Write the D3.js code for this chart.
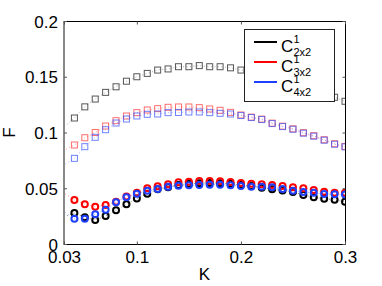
<!DOCTYPE html>
<html><head><meta charset="utf-8">
<script src="https://cdn.jsdelivr.net/npm/d3@7"></script>
<style>html,body{margin:0;padding:0;background:#fff;}svg{display:block;}</style>
</head><body>
<script>
const K = [0.02,0.04,0.05,0.06,0.07,0.08,0.09,0.10,0.11,0.12,0.13,0.14,0.15,0.16,0.17,0.18,0.19,0.20,0.21,0.22,0.23,0.24,0.25,0.26,0.27,0.28,0.29,0.30];
const sq2x2 = [0.097,0.113,0.123,0.130,0.136,0.141,0.146,0.150,0.153,0.156,0.157,0.159,0.159,0.160,0.159,0.159,0.158,0.156,0.154,0.152,0.150,0.147,0.144,0.141,0.138,0.135,0.1316,0.128];
const sq3x2 = [0.079,0.0888,0.0953,0.100,0.1058,0.1106,0.1148,0.1178,0.1202,0.1214,0.1226,0.1229,0.1229,0.1223,0.1211,0.1199,0.1181,0.1157,0.1138,0.1120,0.1084,0.1057,0.1033,0.0998,0.0971,0.0935,0.0899,0.0875];
const sq4x2 = [0.065,0.0768,0.0873,0.0957,0.1025,0.1085,0.1121,0.1148,0.1163,0.1166,0.1178,0.118,0.1184,0.1184,0.1178,0.1172,0.1166,0.1152,0.1134,0.1116,0.1080,0.1053,0.1029,0.0994,0.0967,0.0931,0.0895,0.0871];
const ci2x2 = [0.0212,0.0278,0.024,0.0215,0.0251,0.0302,0.0356,0.0407,0.0451,0.049,0.051,0.053,0.054,0.0545,0.0548,0.0545,0.054,0.053,0.052,0.0505,0.049,0.048,0.0467,0.044,0.042,0.0405,0.0396,0.038];
const ci3x2 = [0.052,0.0395,0.0356,0.0335,0.035,0.038,0.0425,0.046,0.050,0.0517,0.0535,0.0553,0.0559,0.0565,0.0565,0.0562,0.0556,0.0547,0.0540,0.0536,0.0530,0.052,0.0508,0.050,0.0484,0.0469,0.046,0.046];
const ci4x2 = [0.035,0.0227,0.0227,0.0266,0.0308,0.0374,0.0419,0.0451,0.0478,0.0493,0.0514,0.0523,0.0526,0.0529,0.0532,0.0532,0.0526,0.052,0.0514,0.0514,0.0508,0.0493,0.0478,0.0466,0.046,0.0448,0.0446,0.0443];
const xTicks = [0.03,0.1,0.2,0.3];
const xTickLabels = ["0.03","0.1","0.2","0.3"];
const yTicks = [0,0.05,0.1,0.15,0.2];
const yTickLabels = ["0","0.05","0.1","0.15","0.2"];
const legendLabels = [{sup:"1",sub:"2x2"},{sup:"1",sub:"3x2"},{sup:"1",sub:"4x2"}];
const seriesColors = ["#000000","#ff0000","#1f3fff"];

const W=382,H=286;
const L=64,R=345,T=21,B=244;
const FONT='"Liberation Sans", Arial, Helvetica, sans-serif';
const svg=d3.select("body").append("svg").attr("width",W).attr("height",H);
const x=d3.scaleLinear().domain([0.03,0.3]).range([L,R]);
const y=d3.scaleLinear().domain([0,0.2]).range([B,T]);

svg.append("defs").append("clipPath").attr("id","clip").append("rect")
  .attr("x",L).attr("y",T).attr("width",R-L).attr("height",B-T);
const plot=svg.append("g").attr("clip-path","url(#clip)");

const line=d3.line().x((d,i)=>x(K[i])).y(d=>y(d));
function drawSquares(vals,color,op){
  const g=plot.append("g");
  g.append("path").attr("d",line(vals)).attr("fill","none").attr("stroke",color)
    .attr("stroke-opacity",0.45).attr("stroke-width",1).attr("stroke-dasharray","1,2.5");
  g.selectAll("rect").data(vals).join("rect")
    .attr("x",(d,i)=>x(K[i])-3).attr("y",d=>y(d)-3).attr("width",6).attr("height",6)
    .attr("fill","none").attr("stroke",color).attr("stroke-opacity",op).attr("stroke-width",1);
}
function drawCircles(vals,color){
  const g=plot.append("g");
  g.append("path").attr("d",line(vals)).attr("fill","none").attr("stroke",color)
    .attr("stroke-opacity",0.45).attr("stroke-width",1).attr("stroke-dasharray","1,2.5");
  g.selectAll("circle").data(vals).join("circle")
    .attr("cx",(d,i)=>x(K[i])).attr("cy",d=>y(d)).attr("r",3)
    .attr("fill","none").attr("stroke",color).attr("stroke-width",2);
}
drawSquares(sq2x2,"#444",0.9);
drawSquares(sq3x2,"#ff3030",0.7);
drawSquares(sq4x2,"#3050ff",0.7);
drawCircles(ci2x2,seriesColors[0]);
drawCircles(ci3x2,seriesColors[1]);
drawCircles(ci4x2,seriesColors[2]);

// axes box
const ax=svg.append("g");
ax.append("line").attr("x1",L).attr("x2",R).attr("y1",T+0.5).attr("y2",T+0.5).attr("stroke","#000");
ax.append("line").attr("x1",L).attr("x2",R).attr("y1",B+0.5).attr("y2",B+0.5).attr("stroke","#000");
ax.append("line").attr("x1",R+0.5).attr("x2",R+0.5).attr("y1",T).attr("y2",B+1).attr("stroke","#000");
ax.append("line").attr("x1",L).attr("x2",L).attr("y1",T).attr("y2",B+1).attr("stroke","#888").attr("stroke-width",2);

// ticks via axes
const xAxisB=d3.axisBottom(x).tickValues(xTicks).tickSizeInner(-3).tickSizeOuter(0).tickFormat((d,i)=>xTickLabels[i]).tickPadding(8);
const gxb=svg.append("g").attr("transform",`translate(0,${B+0.5})`).call(xAxisB);
gxb.select(".domain").remove();
gxb.selectAll("text").attr("font-family",FONT).attr("font-size",17).attr("fill","#000").attr("dy","0.71em").attr("y",6);
gxb.selectAll("line").attr("stroke","#555");
const gxt=svg.append("g").attr("transform",`translate(0,${T+0.5})`).call(d3.axisTop(x).tickValues(xTicks).tickSizeInner(-3).tickSizeOuter(0).tickFormat(""));
gxt.select(".domain").remove(); gxt.selectAll("line").attr("stroke","#555");

const gyl=svg.append("g").attr("transform",`translate(${L},0)`).call(d3.axisLeft(y).tickValues(yTicks).tickSizeInner(-3).tickSizeOuter(0).tickFormat((d,i)=>yTickLabels[i]).tickPadding(6));
gyl.select(".domain").remove();
gyl.selectAll("text").attr("font-family",FONT).attr("font-size",17).attr("fill","#000").attr("dy","0.36em");
gyl.selectAll("line").attr("stroke","#555");
const gyr=svg.append("g").attr("transform",`translate(${R+0.5},0)`).call(d3.axisRight(y).tickValues(yTicks).tickSizeInner(-3).tickSizeOuter(0).tickFormat(""));
gyr.select(".domain").remove(); gyr.selectAll("line").attr("stroke","#555");

// axis titles
svg.append("text").attr("x",(L+R)/2).attr("y",280).attr("text-anchor","middle")
  .attr("font-family",FONT).attr("font-size",17).text("K");
svg.append("text").attr("transform",`translate(15,${(T+B)/2}) rotate(-90)`).attr("text-anchor","middle")
  .attr("font-family",FONT).attr("font-size",17).text("F");

// legend
const lg=svg.append("g");
lg.append("rect").attr("x",244.5).attr("y",29.5).attr("width",90).attr("height",72)
  .attr("fill","#fff").attr("stroke","#222").attr("stroke-width",1);
legendLabels.forEach((lab,i)=>{
  const y0=42+i*20;
  lg.append("line").attr("x1",254).attr("x2",277).attr("y1",y0).attr("y2",y0)
    .attr("stroke",seriesColors[i]).attr("stroke-width",2);
  lg.append("text").attr("x",281).attr("y",y0+9.5).attr("font-family",FONT).attr("font-size",17).text("C");
  lg.append("text").attr("x",293.5).attr("y",y0+1).attr("font-family",FONT).attr("font-size",11).text(lab.sup);
  lg.append("text").attr("x",293.5).attr("y",y0+13.5).attr("font-family",FONT).attr("font-size",11).text(lab.sub);
});
</script>
</body></html>
